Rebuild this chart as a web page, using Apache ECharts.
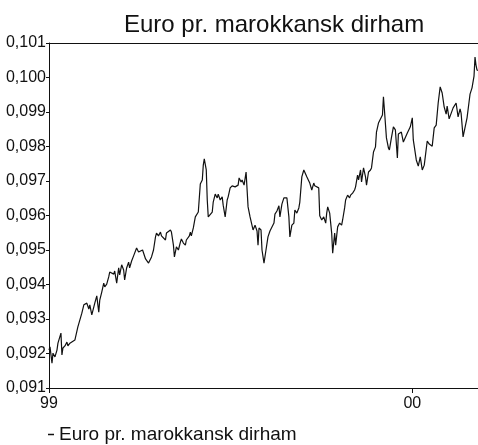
<!DOCTYPE html>
<html>
<head>
<meta charset="utf-8">
<title>Euro pr. marokkansk dirham</title>
<script src="https://cdn.jsdelivr.net/npm/echarts@6/dist/echarts.min.js"></script>
<style>
  html, body { margin: 0; padding: 0; background: #fff; }
  #chart { width: 478px; height: 445px; }
</style>
</head>
<body>
<div id="chart"></div>
<script>
// Dager etter 1. januar 1999
const dayOffsets = [
  0, 1, 3, 4, 6, 8, 9, 12, 13, 14, 16, 18, 19, 21, 23, 26, 29, 33, 35, 38,
  40, 41, 43, 45, 46, 48, 50, 51, 53, 55, 56, 58, 60, 61, 65, 66, 68, 70, 71, 73,
  75, 76, 78, 80, 81, 83, 85, 88, 90, 91, 94, 97, 100, 103, 105, 107, 108, 110, 112, 113,
  115, 117, 118, 120, 122, 123, 125, 126, 128, 130, 132, 133, 135, 137, 138, 141, 142, 143, 145, 147,
  149, 150, 152, 154, 155, 156, 158, 159, 160, 162, 164, 165, 167, 169, 170, 172, 174, 175, 177, 179,
  180, 182, 184, 187, 190, 191, 193, 194, 196, 198, 200, 202, 204, 205, 207, 209, 210, 211, 213, 214,
  216, 218, 220, 221, 222, 224, 226, 227, 229, 231, 232, 234, 236, 237, 239, 241, 242, 244, 246, 247,
  249, 251, 252, 254, 256, 259, 261, 262, 264, 266, 267, 269, 271, 272, 274, 276, 278, 279, 280, 282,
  284, 285, 287, 288, 290, 292, 294, 295, 297, 298, 300, 302, 303, 305, 307, 308, 310, 311, 313, 314,
  316, 318, 319, 321, 323, 324, 326, 328, 329, 331, 333, 335, 336, 337, 339, 341, 342, 344, 346, 348,
  350, 351, 354, 356, 360, 363, 365, 366, 369, 371, 373, 375, 377, 380, 382, 385, 387, 389, 391, 393,
  395, 397, 399, 400, 402, 404, 406, 408, 409, 411, 413, 414, 416, 417, 420, 422, 423, 425, 427, 428,
  429, 430, 431
];

// Euro pr. marokkansk dirham
const rates = [
  0.09210, 0.09219, 0.09172, 0.09201, 0.09190, 0.09210, 0.09230, 0.09259, 0.09196, 0.09216,
  0.09222, 0.09233, 0.09222, 0.09230, 0.09228, 0.09239, 0.09277, 0.09317, 0.09341, 0.09346,
  0.09329, 0.09341, 0.09312, 0.09317, 0.09346, 0.09367, 0.09320, 0.09355, 0.09378, 0.09404,
  0.09393, 0.09401, 0.09422, 0.09436, 0.09430, 0.09439, 0.09404, 0.09448, 0.09428, 0.09457,
  0.09442, 0.09413, 0.09448, 0.09465, 0.09448, 0.09468, 0.09483, 0.09506, 0.09494, 0.09491,
  0.09500, 0.09474, 0.09462, 0.09480, 0.09500, 0.09538, 0.09549, 0.09541, 0.09552, 0.09541,
  0.09546, 0.09529, 0.09549, 0.09552, 0.09558, 0.09552, 0.09514, 0.09480, 0.09509, 0.09500,
  0.09523, 0.09532, 0.09520, 0.09514, 0.09529, 0.09541, 0.09552, 0.09541, 0.09564, 0.09596,
  0.09601, 0.09610, 0.09691, 0.09703, 0.09746, 0.09764, 0.09732, 0.09645, 0.09596, 0.09599,
  0.09610, 0.09639, 0.09662, 0.09651, 0.09662, 0.09645, 0.09654, 0.09630, 0.09596, 0.09645,
  0.09654, 0.09680, 0.09686, 0.09683, 0.09688, 0.09709, 0.09697, 0.09703, 0.09688, 0.09726,
  0.09625, 0.09596, 0.09593, 0.09558, 0.09572, 0.09555, 0.09514, 0.09564, 0.09558, 0.09500,
  0.09462, 0.09500, 0.09538, 0.09543, 0.09555, 0.09558, 0.09578, 0.09604, 0.09613, 0.09628,
  0.09596, 0.09633, 0.09651, 0.09654, 0.09651, 0.09596, 0.09538, 0.09572, 0.09578, 0.09616,
  0.09607, 0.09622, 0.09639, 0.09712, 0.09732, 0.09712, 0.09700, 0.09694, 0.09674, 0.09694,
  0.09686, 0.09688, 0.09680, 0.09599, 0.09587, 0.09596, 0.09578, 0.09607, 0.09625, 0.09607,
  0.09549, 0.09491, 0.09549, 0.09514, 0.09567, 0.09578, 0.09572, 0.09587, 0.09622, 0.09645,
  0.09659, 0.09651, 0.09659, 0.09665, 0.09674, 0.09683, 0.09717, 0.09703, 0.09732, 0.09697,
  0.09738, 0.09712, 0.09688, 0.09726, 0.09732, 0.09738, 0.09784, 0.09799, 0.09842, 0.09868,
  0.09871, 0.09891, 0.09944, 0.09906, 0.09825, 0.09796, 0.09790, 0.09825, 0.09857, 0.09848,
  0.09767, 0.09836, 0.09842, 0.09813, 0.09839, 0.09857, 0.09883, 0.09819, 0.09761, 0.09743,
  0.09770, 0.09732, 0.09746, 0.09816, 0.09807, 0.09801, 0.09854, 0.09862, 0.09926, 0.09973,
  0.09955, 0.09915, 0.09894, 0.09917, 0.09880, 0.09877, 0.09912, 0.09915, 0.09926, 0.09886,
  0.09909, 0.09897, 0.09828, 0.09833, 0.09883, 0.09929, 0.09952, 0.09970, 0.10004, 0.10059,
  0.10036, 0.10022, 0.10020
];

// Årsmerker på x-aksen
const yearTicks = [0, 365];
const yearLabels = ['99', '00'];

const seriesName = 'Euro pr. marokkansk dirham';
const font = '"Liberation Sans", Arial, sans-serif';

const chart = echarts.init(document.getElementById('chart'));

const option = {
  backgroundColor: '#fff',
  animation: false,
  title: {
    text: 'Euro pr. marokkansk dirham',
    left: 119,
    top: 8,
    textStyle: { fontFamily: font, fontSize: 24, fontWeight: 'normal', color: '#111' }
  },
  legend: {
    left: 43,
    top: 420,
    icon: 'rect',
    itemWidth: 6,
    itemHeight: 1.5,
    itemGap: 4,
    data: [seriesName],
    textStyle: { fontFamily: font, fontSize: 19, color: '#111', padding: [0, 0, 0, 0] }
  },
  grid: { left: 49, right: 0, top: 43, bottom: 57 },
  xAxis: [
    {
      type: 'value',
      min: 0,
      max: 431,
      interval: 365,
      axisLine: { lineStyle: { color: '#111', width: 1 } },
      axisTick: { length: 5, lineStyle: { color: '#111' } },
      splitLine: { show: false },
      axisLabel: {
        margin: 8,
        fontFamily: font,
        fontSize: 16,
        color: '#111',
        showMaxLabel: false,
        formatter: v => {
          const i = yearTicks.indexOf(v);
          return i >= 0 ? yearLabels[i] : '';
        }
      }
    },
    {
      type: 'value',
      position: 'top',
      min: 0,
      max: 431,
      axisLine: { show: true, lineStyle: { color: '#111', width: 1 } },
      axisTick: { show: false },
      axisLabel: { show: false },
      splitLine: { show: false }
    }
  ],
  yAxis: {
    type: 'value',
    min: 0.091,
    max: 0.101,
    interval: 0.001,
    axisLine: { show: true, lineStyle: { color: '#111', width: 1 } },
    axisTick: { show: true, length: 3, lineStyle: { color: '#111' } },
    splitLine: { show: false },
    axisLabel: {
      margin: 3,
      fontFamily: font,
      fontSize: 16,
      color: '#111',
      formatter: v => v.toFixed(3).replace('.', ',')
    }
  },
  series: [
    {
      name: seriesName,
      type: 'line',
      xAxisIndex: 0,
      showSymbol: false,
      symbol: 'none',
      lineStyle: { color: '#111', width: 1.2 },
      itemStyle: { color: '#111' },
      data: dayOffsets.map((d, i) => [d, rates[i]])
    }
  ]
};

chart.setOption(option);
window.addEventListener('resize', () => chart.resize());
</script>
</body>
</html>
